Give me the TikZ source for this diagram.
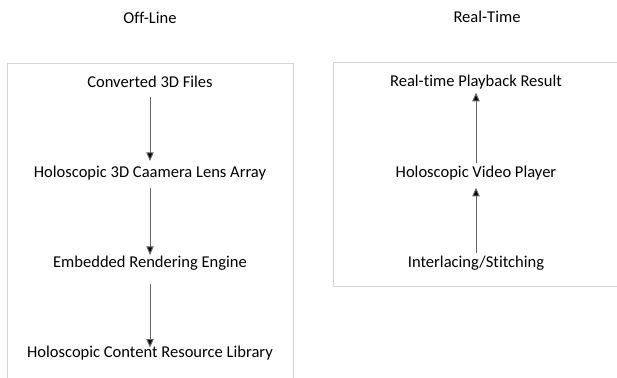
\documentclass[tikz,border=0pt]{standalone}
\usepackage{fontspec}
\setmainfont[Ligatures=NoCommon]{Carlito}
\usetikzlibrary{arrows.meta}
\begin{document}
\begin{tikzpicture}[x=0.75pt,y=-0.75pt,
  label/.style={inner sep=0pt,font=\fontsize{12.4pt}{14pt}\selectfont},
  frame/.style={draw=black!17,line width=0.75pt},
  flow/.style={draw=black!60,line width=0.75pt,
    -{Triangle[width=5.5pt,length=6.5pt,fill=black]}}]
\useasboundingbox (0,0) rectangle (617,378);

% column headings
\node[label] (hoff) at (150,18) {Off-Line};
\node[label] (hrt)  at (487,17) {Real-Time};

% frames (both run past the page edge)
\draw[frame] (7,380) -- (7,64) -- (293,64) -- (293,380);
\draw[frame] (619,63) -- (333,63) -- (333,286) -- (619,286);

% off-line pipeline
\node[label] (conv) at (150,82)  {Converted 3D Files};
\node[label] (lens) at (150,173) {Holoscopic 3D Caamera Lens Array};
\node[label] (rend) at (150,263) {Embedded Rendering Engine};
\node[label] (lib)  at (150,353) {Holoscopic Content Resource Library};

\draw[flow,shorten <=11pt,shorten >=9pt]   (conv.center) -- (lens.center);
\draw[flow,shorten <=11pt,shorten >=6pt]   (lens.center) -- (rend.center);
\draw[flow,shorten <=15.5pt,shorten >=4pt] (rend.center) -- (lib.center);

% real-time pipeline
\node[label] (play) at (476,82)  {Real-time Playback Result};
\node[label] (vid)  at (476,173) {Holoscopic Video Player};
\node[label] (intl) at (476,263) {Interlacing/Stitching};

\draw[flow,shorten <=7.5pt,shorten >=8pt]  (vid.center) -- (play.center);
\draw[flow,shorten <=7.5pt,shorten >=11pt] (intl.center) -- (vid.center);
\end{tikzpicture}
\end{document}
